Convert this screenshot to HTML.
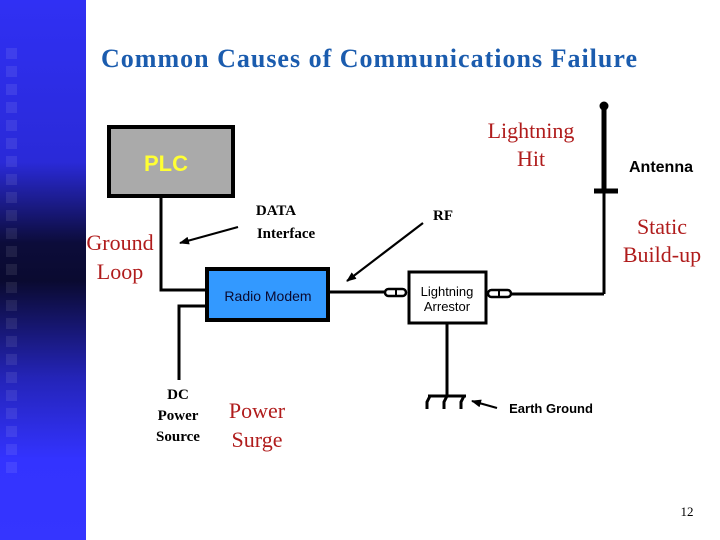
<!DOCTYPE html>
<html><head><meta charset="utf-8"><style>
html,body{margin:0;padding:0;background:#fff;width:720px;height:540px;overflow:hidden}
</style></head><body>
<svg width="720" height="540" viewBox="0 0 720 540" xmlns="http://www.w3.org/2000/svg">
<defs>
<linearGradient id="bar" x1="0" y1="0" x2="0" y2="1">
<stop offset="0" stop-color="#3030f4"/>
<stop offset="0.3" stop-color="#2a2ad8"/>
<stop offset="0.45" stop-color="#0c0c3a"/>
<stop offset="0.52" stop-color="#0a0a30"/>
<stop offset="0.7" stop-color="#2424b8"/>
<stop offset="0.85" stop-color="#3333ff"/>
<stop offset="1" stop-color="#3535ff"/>
</linearGradient>
<marker id="ah" markerWidth="10" markerHeight="8" refX="9" refY="4" orient="auto" markerUnits="userSpaceOnUse">
<path d="M0,0 L10,4 L0,8 z" fill="#000"/>
</marker>
</defs>
<rect x="0" y="0" width="86" height="540" fill="url(#bar)"/>
<g fill="#ffffff" opacity="0.08">
<rect x="6" y="48" width="11" height="11"/><rect x="6" y="66" width="11" height="11"/><rect x="6" y="84" width="11" height="11"/><rect x="6" y="102" width="11" height="11"/><rect x="6" y="120" width="11" height="11"/><rect x="6" y="138" width="11" height="11"/><rect x="6" y="156" width="11" height="11"/><rect x="6" y="174" width="11" height="11"/><rect x="6" y="192" width="11" height="11"/><rect x="6" y="210" width="11" height="11"/><rect x="6" y="228" width="11" height="11"/><rect x="6" y="246" width="11" height="11"/><rect x="6" y="264" width="11" height="11"/><rect x="6" y="282" width="11" height="11"/><rect x="6" y="300" width="11" height="11"/><rect x="6" y="318" width="11" height="11"/><rect x="6" y="336" width="11" height="11"/><rect x="6" y="354" width="11" height="11"/><rect x="6" y="372" width="11" height="11"/><rect x="6" y="390" width="11" height="11"/><rect x="6" y="408" width="11" height="11"/><rect x="6" y="426" width="11" height="11"/><rect x="6" y="444" width="11" height="11"/><rect x="6" y="462" width="11" height="11"/>
</g>

<text x="101" y="67" textLength="536" lengthAdjust="spacing" font-family="Liberation Serif, serif" font-weight="bold" font-size="26" fill="#1b5cae">Common Causes of Communications Failure</text>

<g stroke="#000" stroke-width="3" fill="none">
<polyline points="161,196 161,290 207,290"/>
<polyline points="207,306 179,306 179,380"/>
<line x1="329" y1="292" x2="386" y2="292"/>
<line x1="511" y1="294" x2="604" y2="294"/>
<line x1="604" y1="294" x2="604" y2="105"/>
<line x1="447" y1="323" x2="447" y2="397"/>
</g>
<line x1="594" y1="191" x2="618" y2="191" stroke="#000" stroke-width="5"/>
<line x1="604" y1="191" x2="604" y2="106" stroke="#000" stroke-width="5"/>
<circle cx="604" cy="106" r="4.5" fill="#000"/>

<rect x="109" y="127" width="124" height="69" fill="#aaaaaa" stroke="#000" stroke-width="4"/>
<text x="166" y="171" text-anchor="middle" font-family="Liberation Sans, sans-serif" font-weight="bold" font-size="22" fill="#ffff33">PLC</text>

<rect x="207" y="269" width="121" height="51" fill="#3399ff" stroke="#000" stroke-width="4"/>
<text x="268" y="301" text-anchor="middle" font-family="Liberation Sans, sans-serif" font-size="14" fill="#0a0a30">Radio Modem</text>

<rect x="385" y="289" width="21" height="7" rx="3.5" fill="#fff" stroke="#000" stroke-width="2.5"/>
<line x1="396" y1="289" x2="396" y2="296" stroke="#000" stroke-width="2"/>
<rect x="488" y="290" width="23" height="7" rx="3.5" fill="#fff" stroke="#000" stroke-width="2.5"/>
<line x1="499" y1="290" x2="499" y2="297" stroke="#000" stroke-width="2"/>

<rect x="409" y="272" width="77" height="51" fill="#fff" stroke="#000" stroke-width="3"/>
<text x="447" y="296" text-anchor="middle" font-family="Liberation Sans, sans-serif" font-size="13" fill="#000">Lightning</text>
<text x="447" y="311" text-anchor="middle" font-family="Liberation Sans, sans-serif" font-size="13" fill="#000">Arrestor</text>

<g stroke="#000" stroke-width="3" fill="none">
<line x1="428" y1="396" x2="466" y2="396"/>
<path d="M430,396 L427,402 L427,409"/>
<path d="M447,396 L444,402 L444,409"/>
<path d="M464,396 L461,402 L461,409"/>
</g>

<g stroke="#000" stroke-width="2.2" fill="none">
<line x1="238" y1="227" x2="180" y2="243" marker-end="url(#ah)"/>
<line x1="423" y1="223" x2="347" y2="281" marker-end="url(#ah)"/>
<line x1="497" y1="408" x2="472" y2="401" marker-end="url(#ah)"/>
</g>

<g font-family="Liberation Serif, serif" fill="#b01c1c" font-size="22" text-anchor="middle">
<text x="531" y="138">Lightning</text><text x="531" y="166">Hit</text>
<text x="662" y="234">Static</text><text x="662" y="262">Build-up</text>
<text x="120" y="250">Ground</text><text x="120" y="279">Loop</text>
<text x="257" y="418">Power</text><text x="257" y="447">Surge</text>
</g>
<g font-family="Liberation Serif, serif" font-weight="bold" font-size="15" fill="#000" text-anchor="middle">
<text x="276" y="215">DATA</text><text x="286" y="238">Interface</text>
<text x="443" y="220">RF</text>
<text x="178" y="399">DC</text><text x="178" y="420">Power</text><text x="178" y="441">Source</text>
</g>
<text x="661" y="172" text-anchor="middle" font-family="Liberation Sans, sans-serif" font-weight="bold" font-size="16" fill="#000">Antenna</text>
<text x="551" y="413" text-anchor="middle" font-family="Liberation Sans, sans-serif" font-weight="bold" font-size="13" fill="#000">Earth Ground</text>
<text x="687" y="516" text-anchor="middle" font-family="Liberation Serif, serif" font-size="13" fill="#000">12</text>
</svg>
</body></html>
